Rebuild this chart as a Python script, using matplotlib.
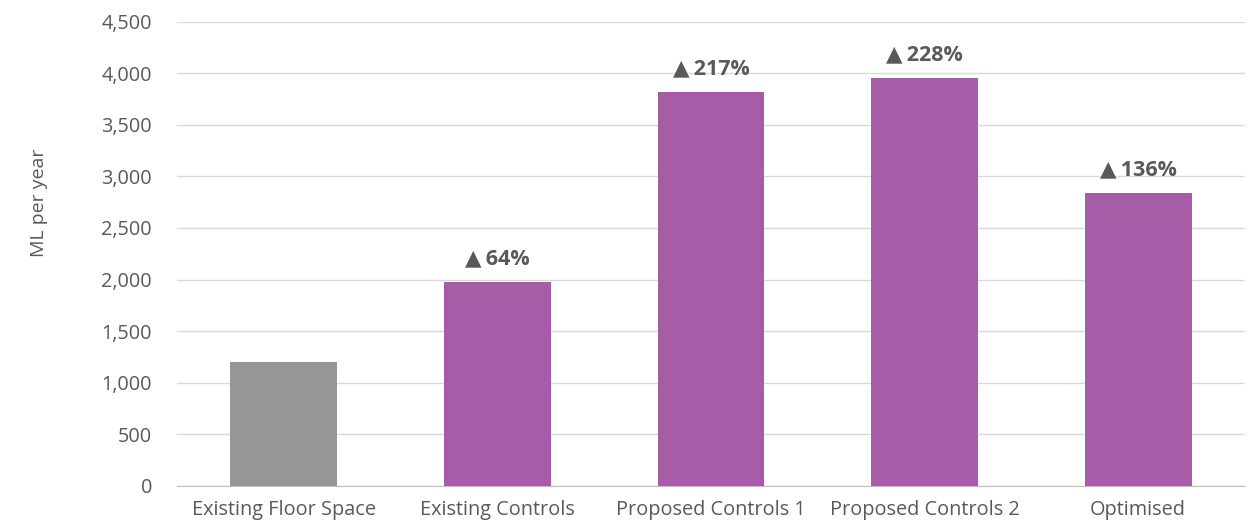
import matplotlib.pyplot as plt
from matplotlib.ticker import FuncFormatter

categories = ['Existing Floor Space', 'Existing Controls', 'Proposed Controls 1',
              'Proposed Controls 2', 'Optimised']
values = [1205, 1977, 3822, 3953, 2840]
changes = [None, '64%', '217%', '228%', '136%']

grey = '#969696'
purple = '#A65CA6'
text_col = '#595959'

plt.rcParams['font.family'] = ['Open Sans', 'DejaVu Sans']

fig = plt.figure(figsize=(12.52, 5.27), dpi=100)
ax = fig.add_axes([0.1414, 0.078, 0.853, 0.881])

colors = [grey] + [purple] * (len(values) - 1)
bars = ax.bar(range(len(categories)), values, width=0.5, color=colors, zorder=3)

for b, c in zip(bars, changes):
    if c is None:
        continue
    ax.annotate('▲\u2009' + c, (b.get_x() + b.get_width() / 2, b.get_height()),
                xytext=(0, 9), textcoords='offset points', ha='center', va='bottom',
                fontsize=15.5, fontweight='bold', color=text_col)

ax.set_ylim(0, 4500)
ax.set_xlim(-0.5, len(categories) - 0.5)
ax.set_yticks(range(0, 4501, 500))
ax.yaxis.set_major_formatter(FuncFormatter(lambda v, p: f'{int(v):,}'))
ax.grid(axis='y', color='#D9D9D9', linewidth=1, zorder=0)
ax.set_xticks(range(len(categories)))
ax.set_xticklabels(categories)
ax.tick_params(axis='both', length=0, labelsize=14.3, colors=text_col)
ax.tick_params(axis='x', pad=10)
ax.tick_params(axis='y', pad=18)
for s in ['top', 'right', 'left']:
    ax.spines[s].set_visible(False)
ax.spines['bottom'].set_color('#BFBFBF')
ax.set_ylabel('ML per year', fontsize=14, color=text_col)
ax.yaxis.set_label_coords(-0.121, 0.61)

fig.savefig('out.png', dpi=100)
